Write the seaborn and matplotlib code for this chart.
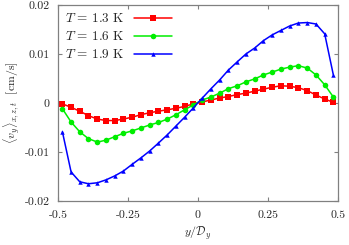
import numpy as np
import pandas as pd
import matplotlib
matplotlib.use("Agg")
import matplotlib.pyplot as plt
import seaborn as sns

# 32 cell-centred positions across the channel
y_pos = [-0.484, -0.453, -0.422, -0.391, -0.359, -0.328, -0.297, -0.266,
         -0.234, -0.203, -0.172, -0.141, -0.109, -0.078, -0.047, -0.016,
         0.016, 0.047, 0.078, 0.109, 0.141, 0.172, 0.203, 0.234,
         0.266, 0.297, 0.328, 0.359, 0.391, 0.422, 0.453, 0.484]

v_13 = [-0.0002, -0.0009, -0.0017, -0.0026, -0.0033, -0.0036, -0.0036, -0.0033,
        -0.0029, -0.0024, -0.0020, -0.0017, -0.0014, -0.0011, -0.0007, -0.0002,
        0.0002, 0.0006, 0.0010, 0.0013, 0.0017, 0.0020, 0.0024, 0.0028,
        0.0032, 0.0035, 0.0034, 0.0031, 0.0025, 0.0016, 0.0008, 0.0001]

v_16 = [-0.0012, -0.0039, -0.0059, -0.0073, -0.0080, -0.0076, -0.0069, -0.0062,
        -0.0057, -0.0051, -0.0045, -0.0040, -0.0033, -0.0024, -0.0014, -0.0004,
        0.0006, 0.0012, 0.0020, 0.0029, 0.0035, 0.0043, 0.0049, 0.0057,
        0.0063, 0.0069, 0.0073, 0.0076, 0.0071, 0.0057, 0.0037, 0.0012]

v_19 = [-0.0059, -0.0141, -0.0161, -0.0165, -0.0163, -0.0157, -0.0149, -0.0139,
        -0.0125, -0.0112, -0.0098, -0.0082, -0.0065, -0.0047, -0.0029, -0.0010,
        0.0010, 0.0029, 0.0047, 0.0067, 0.0084, 0.0100, 0.0112, 0.0127,
        0.0139, 0.0148, 0.0157, 0.0163, 0.0164, 0.0161, 0.0141, 0.0057]

labels = [r"$T\,=\,1.3$ K", r"$T\,=\,1.6$ K", r"$T\,=\,1.9$ K"]
x_ticks = [-0.5, -0.25, 0, 0.25, 0.5]
x_ticklabels = ["-0.5", "-0.25", "0", "0.25", "0.5"]
y_ticks = [-0.02, -0.01, 0, 0.01, 0.02]
y_ticklabels = ["-0.02", "-0.01", "0", "0.01", "0.02"]

sns.set_style("ticks")
plt.rcParams["font.family"] = ["cmr10", "DejaVu Serif"]
plt.rcParams["mathtext.fontset"] = "cm"
plt.rcParams["axes.unicode_minus"] = False
plt.rcParams["axes.formatter.use_mathtext"] = True

fig = plt.figure(figsize=(3.49, 2.45), dpi=100)
ax = fig.add_axes([0.166, 0.180, 0.802, 0.800])

series = [(v_13, "#ff0000", "s", 4.0), (v_16, "#00ee00", "o", 4.0), (v_19, "#0000ff", "^", 3.2)]
for (vals, col, mk, ms), lab in zip(series, labels):
    df = pd.DataFrame({"y": y_pos, "v": vals})
    sns.lineplot(data=df, x="y", y="v", ax=ax, color=col, marker=mk,
                 markersize=ms, markeredgewidth=0, linewidth=1.1, label=lab)

ax.set_xlim(-0.5, 0.5)
ax.set_ylim(-0.02, 0.02)
ax.set_xticks(x_ticks)
ax.set_xticklabels(x_ticklabels)
ax.set_yticks(y_ticks)
ax.set_yticklabels(y_ticklabels)
ax.tick_params(direction="in", top=True, right=True, length=3, width=0.8,
               color="#808080", labelsize=8.5)
ax.tick_params(axis="x", pad=7)
ax.tick_params(axis="y", pad=6)
for s in ax.spines.values():
    s.set_color("#808080")
    s.set_linewidth(0.9)

ax.set_xlabel(r"$y/\mathcal{D}_y$", fontsize=8.5, labelpad=3)
ax.set_ylabel(r"$\langle v_y\rangle_{x,z,t}$  [cm/s]", fontsize=8.5, labelpad=2)

ax.legend(loc="upper left", frameon=False, markerfirst=False, fontsize=9.5,
          handlelength=2.9, labelspacing=0.38, borderaxespad=0.25,
          handletextpad=0.7, borderpad=0.3)

fig.savefig("out.png", dpi=100)
